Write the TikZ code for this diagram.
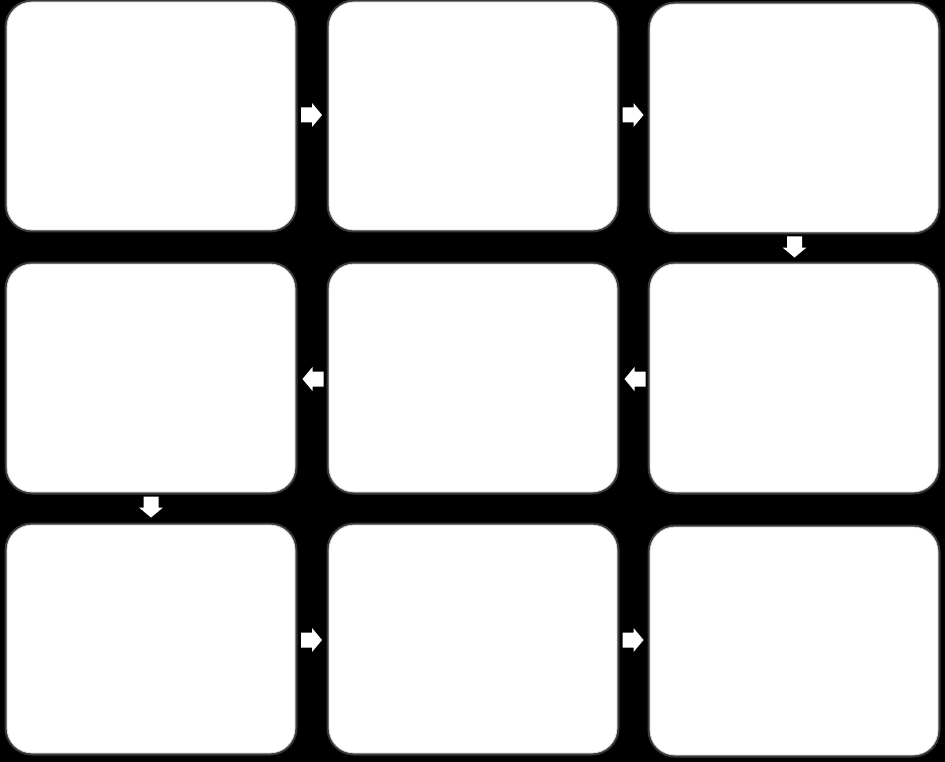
\documentclass[tikz,border=0pt]{standalone}
\usetikzlibrary{calc}
\tikzset{
  panel/.style={fill=white, draw=gray!30, line width=0.8pt, rounded corners=25pt},
  glow/.style={draw=gray!50, line width=3pt, rounded corners=26pt, opacity=0.3},
  blockarrow/.pic={\fill[white] (-10.5,-7.5) -- (0.5,-7.5) -- (0.5,-12) -- (10.5,0) -- (0.5,12) -- (0.5,7.5) -- (-10.5,7.5) -- cycle;}
}
\begin{document}
\begin{tikzpicture}[x=1pt,y=-1pt]
\fill[black] (0,0) rectangle (945,762);
\useasboundingbox (0,0) rectangle (945,762);
% boxes
\foreach \n/\xa/\ya/\xb/\yb in {b1/7/2/295/230, b2/329/2/617/230, b3/650/4/938/232,
  b4/7/264/295/492, b5/329/264/617/492, b6/650/264/938/492,
  b7/7/525/295/753, b8/329/525/617/753, b9/650/527/938/755}{
  \draw[glow] (\xa-1,\ya-1) rectangle (\xb+1,\yb+1);
  \draw[panel] (\xa,\ya) rectangle (\xb,\yb);
  \coordinate (\n) at ({(\xa+\xb)/2},{(\ya+\yb)/2});
}
% arrows
\pic at (311.5,115) {blockarrow};
\pic at (633,115) {blockarrow};
\pic[rotate=-90] at (794.5,247) {blockarrow};
\pic[rotate=180] at (313,379) {blockarrow};
\pic[rotate=180] at (635,379) {blockarrow};
\pic[rotate=-90] at (151,507) {blockarrow};
\pic at (311.5,640) {blockarrow};
\pic at (633,640) {blockarrow};
\end{tikzpicture}
\end{document}
